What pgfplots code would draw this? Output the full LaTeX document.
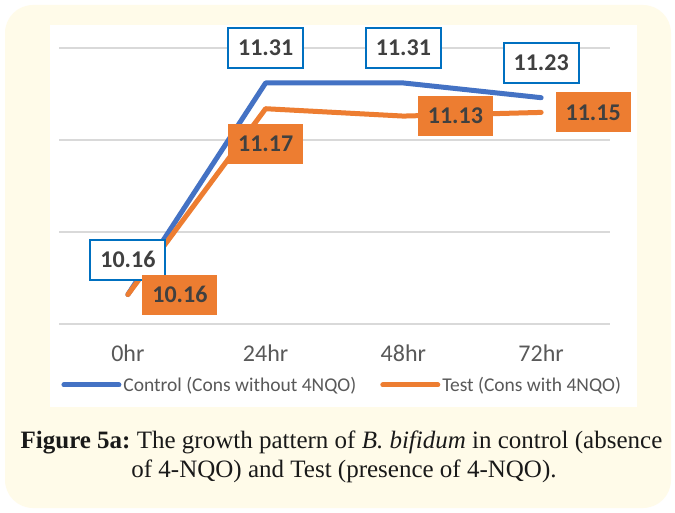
\documentclass[border=0pt]{standalone}
\usepackage{pgfplots}
\pgfplotsset{compat=1.18}
\usepackage{fontspec}
\setmainfont{Carlito}
\newfontfamily\capfont{Liberation Serif}
\frenchspacing

\definecolor{ctrlblue}{HTML}{4472C4}
\definecolor{testorange}{HTML}{ED7D31}
\definecolor{boxblue}{HTML}{0070C0}
\definecolor{cream}{HTML}{FFFBE9}
\definecolor{gridgray}{HTML}{D9D9D9}
\definecolor{txtgray}{HTML}{595959}
\definecolor{lbltext}{HTML}{404040}

\tikzset{
  lblfont/.style={font=\bfseries\fontsize{24}{26}\selectfont, text=lbltext,
    minimum width=75pt, minimum height=40pt, inner sep=2pt, anchor=center},
  ctrllabel/.style={lblfont, draw=boxblue, line width=2pt, fill=white},
  testlabel/.style={lblfont, draw=none, fill=testorange},
}

\begin{document}
\begin{tikzpicture}[x=1pt,y=1pt]
% page and panel backgrounds
\fill[white] (0,0) rectangle (675,512);
\fill[cream, rounded corners=28pt] (5,4) rectangle (671,507);
\fill[white] (50,105) rectangle (637,487);

\begin{axis}[
  at={(59pt,188pt)}, anchor=south west,
  scale only axis, width=551pt, height=276pt,
  xmin=-0.5, xmax=3.5, ymin=10, ymax=11.5,
  xtick={0,1,2,3}, xticklabels={0hr,24hr,48hr,72hr},
  ytick={10,10.5,11,11.5}, yticklabels={},
  ymajorgrids, grid style={gridgray, line width=1.8pt},
  axis line style={draw=none}, major tick length=0pt,
  tick label style={font=\fontsize{24}{26}\selectfont, text=txtgray},
  xticklabel style={yshift=-17pt},
  clip=false,
  /pgf/number format/fixed,
  /pgf/number format/precision=2,
  /pgf/number format/fixed zerofill,
  /pgf/number format/assume math mode=true,
  legend style={draw=none, fill=none, at={(axis description cs:0.514,-0.221)},
    anchor=center, legend columns=2, font=\fontsize{19.5}{22}\selectfont,
    text=txtgray, inner sep=0pt,
    /tikz/every even column/.append style={column sep=22pt}},
  legend cell align=left,
  legend image code/.code={\draw[#1, line width=5pt, line cap=round] (0pt,0pt) -- (55pt,0pt);},
]
% growth curves
\addplot[ctrlblue, line width=5pt, line cap=round, line join=round]
  coordinates {(0,10.16) (1,11.31) (2,11.31) (3,11.23)};
\addlegendentry{Control (Cons without 4NQO)}
\addplot[testorange, line width=5pt, line cap=round, line join=round]
  coordinates {(0,10.16) (1,11.17) (2,11.13) (3,11.15)};
\addlegendentry{Test (Cons with 4NQO)}

% value labels
\addplot[draw=none, mark=none, forget plot, nodes near coords,
  nodes near coords style={ctrllabel, yshift=35pt}]
  coordinates {(0,10.16) (1,11.31) (2,11.31) (3,11.23)};
\addplot[draw=none, mark=none, forget plot, nodes near coords,
  nodes near coords style={testlabel, yshift=-35pt}]
  coordinates {(1,11.17)};
\addplot[draw=none, mark=none, forget plot, nodes near coords,
  nodes near coords style={testlabel, xshift=52pt}]
  coordinates {(0,10.16) (2,11.13) (3,11.15)};
\end{axis}

% caption
\node[anchor=base, font=\capfont\fontsize{25}{28}\selectfont, text=black!90]
  at (341.5,64) {\textbf{Figure 5a:} The growth pattern of \textit{B. bifidum} in control (absence};
\node[anchor=base, font=\capfont\fontsize{25}{28}\selectfont, text=black!90]
  at (344,35) {of 4-NQO) and Test (presence of 4-NQO).};
\end{tikzpicture}
\end{document}
